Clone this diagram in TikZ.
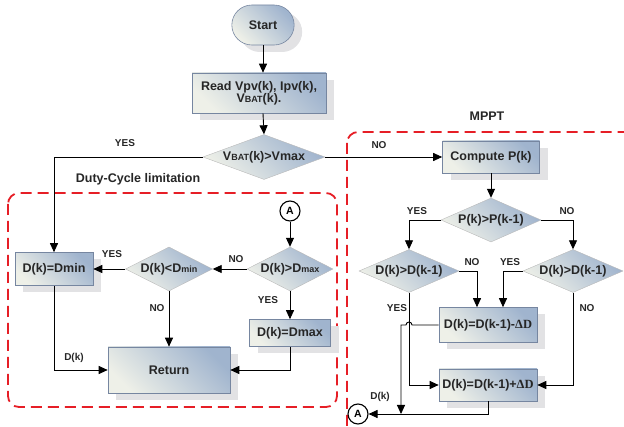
\documentclass[tikz,border=0pt]{standalone}
\usepackage{fontspec}
\setmainfont{Liberation Sans}
\newfontfamily\deltafont{Liberation Serif}
\usepackage{tikz}
\usetikzlibrary{shapes.geometric, shapes.misc, arrows.meta, shadows, positioning}
\usetikzlibrary{calc}
\usepackage{xcolor}
\definecolor{boxlight}{RGB}{238,240,232}
\definecolor{boxdark}{RGB}{160,180,206}
\definecolor{boxline}{RGB}{118,134,160}
\definecolor{shadowgray}{RGB}{226,226,228}
\definecolor{groupred}{RGB}{230,30,38}
\newcommand{\sm}[1]{{\fontsize{9}{10}\selectfont #1}}
\newcommand{\dD}{{\deltafont ΔD}}

\begin{document}
\begin{tikzpicture}[x=1pt,y=-1pt,
	font=\fontsize{12.5}{14}\selectfont\bfseries,
	shadebox/.style={bottom color=boxlight, top color=boxdark, shading angle=-45},
	process/.style={rectangle, shadebox, draw=boxline, line width=0.6pt, inner sep=2pt, text=black!85,
		general shadow={fill=shadowgray, shadow xshift=8pt, shadow yshift=-7pt}},
	terminal/.style={rounded rectangle, shadebox, draw=boxline, line width=0.6pt, text=black!85,
		general shadow={fill=shadowgray, shadow xshift=8pt, shadow yshift=-7pt}},
	decision/.style={diamond, shadebox, draw=gray!55, line width=0.4pt, inner sep=0pt, text=black!85},
	flow/.style={draw, line width=0.9pt, -{Triangle[length=9pt,width=8pt]}},
	line/.style={draw, line width=0.9pt},
	tag/.style={font=\fontsize{10}{12}\selectfont\bfseries, text=black!85},
	title/.style={font=\fontsize{12.5}{14}\selectfont\bfseries, text=black!85},
	group/.style={draw=groupred, line width=1.8pt, dash pattern=on 11pt off 6pt, rounded corners=11pt},
	connector/.style={circle, draw, line width=1.1pt, fill=white, inner sep=0pt, minimum size=20pt,
		font=\fontsize{10.5}{12}\selectfont\bfseries}]
	\clip (0,0) rectangle (624,427);

	% dashed groups
	\draw[group] (8,193) rectangle (337,407);
	\draw[group] (347,132) rectangle (650,450);
	\node[title] (lbllimit) at (138,179) {Duty-Cycle limitation};
	\node[title] (lblmppt) at (487,116) {MPPT};

	% main branch
	\node[terminal, minimum width=69pt, minimum height=40pt] (start) at (263,25) {Start};
	\node[process, minimum width=134pt, minimum height=40pt, align=center] (read) at (259,93)
		{Read Vpv(k), Ipv(k),\\[-2pt] V\sm{BAT}(k).};
	\node[decision, minimum width=122pt, minimum height=45pt, aspect=2.7] (vbat) at (264,157) {V\sm{BAT}(k)>Vmax};

	% MPPT
	\node[process, minimum width=97pt, minimum height=32pt] (compute) at (491,157) {Compute P(k)};
	\node[decision, minimum width=100pt, minimum height=44pt, aspect=2.3] (pdec) at (491,220) {P(k)>P(k-1)};
	\node[decision, minimum width=100pt, minimum height=43pt, aspect=2.3] (ldec) at (409,271) {D(k)>D(k-1)};
	\node[decision, minimum width=100pt, minimum height=43pt, aspect=2.3] (rdec) at (573,271) {D(k)>D(k-1)};
	\node[process, minimum width=98pt, minimum height=35pt] (minus) at (488,325) {D(k)=D(k-1)-\dD};
	\node[process, minimum width=98pt, minimum height=32pt] (plus) at (488,385) {D(k)=D(k-1)+\dD};
	\node[connector] (aright) at (358,414) {A};
	\coordinate (hop) at ($(ldec.south |- minus.west)+(3,0)$);
	\coordinate (merge) at (401,414);

	% duty-cycle limitation
	\node[connector] (aleft) at (290,211) {A};
	\node[decision, minimum width=86pt, minimum height=44pt, aspect=1.95] (dmax) at (290,269) {D(k)>D\sm{max}};
	\node[decision, minimum width=87pt, minimum height=44pt, aspect=1.95] (dmin) at (169,269) {D(k)<D\sm{min}};
	\node[process, minimum width=78pt, minimum height=33pt] (setmin) at (54,269) {D(k)=Dmin};
	\node[process, minimum width=81pt, minimum height=27pt] (setmax) at (290,333) {D(k)=Dmax};
	\node[process, minimum width=122pt, minimum height=46pt] (ret) at (169,370) {Return};

	\draw[flow] (start.south) -- (start.south |- read.north);
	\draw[flow] (read.south -| start.south) -- (vbat.north);
	\draw[flow] (vbat.west) -| (setmin.north);
	\draw[flow] (vbat.east) -- (compute.west);
	\node[tag] (lblyes1) at (125,143) {YES};
	\node[tag] (lblno1) at (379,145) {NO};

	\draw[flow] (compute.south) -- (pdec.north);
	\draw[flow] (pdec.west) -| (ldec.north);
	\draw[flow] (pdec.east) -| (rdec.north);
	\draw[flow] (ldec.east) -| ([xshift=-11pt]minus.north);
	\draw[flow] (rdec.west) -| ([xshift=15pt]minus.north);
	\draw[flow] (ldec.south) |- (plus.west);
	\draw[flow] (rdec.south) |- (plus.east);
	\draw[flow] (minus.west) -- (hop) arc[start angle=0, end angle=-180, radius=3] -| (merge);
	\draw[flow] (plus.south) |- (aright);
	\node[tag] (lblyes2) at (417,211) {YES};
	\node[tag] (lblno2) at (567,211) {NO};
	\node[tag] (lblno3) at (472,262) {NO};
	\node[tag] (lblyes3) at (510,262) {YES};
	\node[tag] (lblyes4) at (397,308) {YES};
	\node[tag] (lblno4) at (587,308) {NO};
	\node[tag] (lbldk1) at (380,397) {D(k)};

	\draw[flow] (aleft) -- (dmax.north);
	\draw[flow] (dmax.west) -- (dmin.east);
	\draw[flow] (dmin.west) -- (setmin.east);
	\draw[flow] (dmin.south) -- (ret.north);
	\draw[flow] (dmax.south) -- (setmax.north);
	\draw[flow] (setmin.south) |- (ret.west);
	\draw[flow] (setmax.south) |- (ret.east);
	\node[tag] (lblno5) at (236,259) {NO};
	\node[tag] (lblyes5) at (112,254) {YES};
	\node[tag] (lblno6) at (157,308) {NO};
	\node[tag] (lblyes6) at (268,300) {YES};
	\node[tag] (lbldk2) at (74,358) {D(k)};
\end{tikzpicture}
\end{document}
